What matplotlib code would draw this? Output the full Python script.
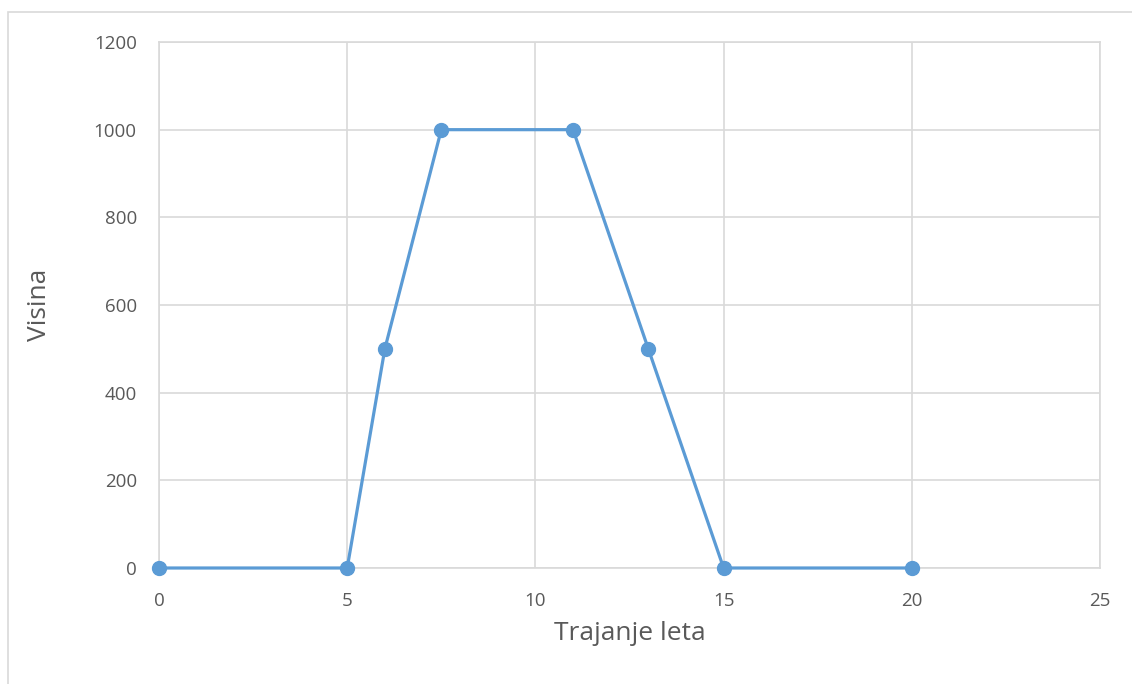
import matplotlib
matplotlib.use("Agg")
import matplotlib.pyplot as plt
from matplotlib.patches import Rectangle

x_vals = [0, 5, 6, 7.5, 11, 13, 15, 20]
y_vals = [0, 0, 500, 1000, 1000, 500, 0, 0]
x_ticks = [0, 5, 10, 15, 20, 25]
y_ticks = [0, 200, 400, 600, 800, 1000, 1200]

W, H = 1132, 684
fig = plt.figure(figsize=(W/100, H/100), dpi=100)
plt.rcParams['font.family'] = ['Open Sans', 'DejaVu Sans']
ax = fig.add_axes([159/W, 1-568/H, (1100-159)/W, (568-42)/H])

# outer chart border
fig.patches.append(Rectangle((8/W, -0.1), 1.2, 1-12/H+0.1, transform=fig.transFigure,
                             fill=False, edgecolor='#d9d9d9', linewidth=1.2))

line_color = '#5B9BD5'
ax.plot(x_vals, y_vals, color=line_color, linewidth=2.3, marker='o', markersize=10,
        zorder=3, clip_on=False)

ax.set_xlim(0, 25)
ax.set_ylim(0, 1200)
ax.set_xticks(x_ticks)
ax.set_yticks(y_ticks)
ax.grid(True, color='#d9d9d9', linewidth=1.2)
ax.set_axisbelow(True)
for s in ax.spines.values():
    s.set_color('#d9d9d9')
    s.set_linewidth(1.2)
ax.tick_params(length=0, labelsize=13.5, colors='#595959')
ax.tick_params(axis='x', pad=17)
ax.tick_params(axis='y', pad=16)
ax.set_xlabel('Trajanje leta', fontsize=19, color='#595959', labelpad=8)
ax.set_ylabel('Visina', fontsize=19, color='#595959', labelpad=30)

fig.savefig('out.png', dpi=100)
